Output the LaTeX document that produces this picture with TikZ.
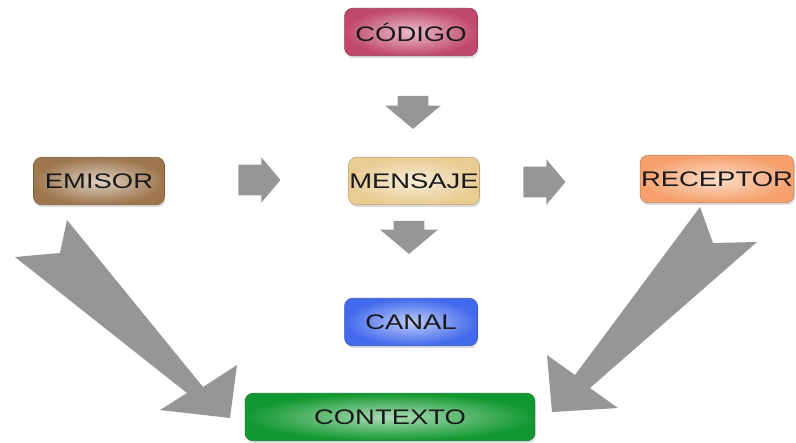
\documentclass[tikz,border=0pt]{standalone}
\usepackage{fontspec}
\setmainfont{Liberation Sans}
\usetikzlibrary{positioning,shapes.arrows,shadows}
\definecolor{codigoc}{RGB}{192,72,108}
\definecolor{emisorc}{RGB}{158,118,78}
\definecolor{mensajec}{RGB}{232,204,146}
\definecolor{receptorc}{RGB}{246,160,108}
\definecolor{canalc}{RGB}{66,106,236}
\definecolor{contextoc}{RGB}{18,152,48}
\definecolor{arrowgray}{RGB}{150,150,150}
\newcommand{\ancho}[1]{\scalebox{1.3}[1]{#1}}
\tikzset{%
	tag/.style        = {rectangle, rounded corners=0.16cm, minimum height=0.95cm, inner sep=0pt, text centered, font=\fontsize{12}{14}\selectfont, text=black!90, draw=#1!80!black, line width=0.3pt, inner color=#1!35!white, outer color=#1, drop shadow={opacity=0.25, shadow xshift=0.02cm, shadow yshift=-0.05cm}},
	smallarrow/.style = {single arrow, fill=arrowgray, draw=none, inner xsep=0pt, inner ysep=0.3cm, minimum height=0.84cm, single arrow head extend=0.15cm, single arrow tip angle=100},
	bigarrow/.style   = {fill=arrowgray, draw=none},
}
\begin{document}
\begin{tikzpicture}[x={(0.02cm,0)},y={(0,-0.02cm)}]
	\useasboundingbox (0,0) rectangle (796,443);
	% big arrows
	\fill[bigarrow] (67,220) -- (203,387) -- (237,365) -- (230,418) -- (160,410) -- (187,393) -- (15,257) -- (60,253) -- cycle;
	\fill[bigarrow] (700,207) -- (575,375) -- (547,355) -- (552,412) -- (618,408) -- (590,388) -- (757,242) -- (713,243) -- cycle;
	% boxes
	\node[tag=codigoc,   minimum width=2.66cm] (codigo)   at (411,32)  {\ancho{CÓDIGO}};
	\node[tag=emisorc,   minimum width=2.62cm] (emisor)   at (99,181)  {\ancho{EMISOR}};
	\node[tag=mensajec,  minimum width=2.62cm] (mensaje)  at (414,181) {\ancho{MENSAJE}};
	\node[tag=receptorc, minimum width=3.08cm] (receptor) at (717,179) {\ancho{RECEPTOR}};
	\node[tag=canalc,    minimum width=2.66cm] (canal)    at (411,322) {\ancho{CANAL}};
	\node[tag=contextoc, minimum width=5.80cm] (contexto) at (390,417) {\ancho{CONTEXTO}};
	% small arrows
	\node[smallarrow] (a1) at (253,180) {};
	\node[smallarrow] (a2) at (538,182) {};
	\node[smallarrow, rotate=-90, minimum height=0.66cm, single arrow head extend=0.25cm] (a3) at (413,106) {};
	\node[smallarrow, rotate=-90, minimum height=0.66cm, single arrow head extend=0.27cm] (a4) at (409,231) {};
\end{tikzpicture}
\end{document}
